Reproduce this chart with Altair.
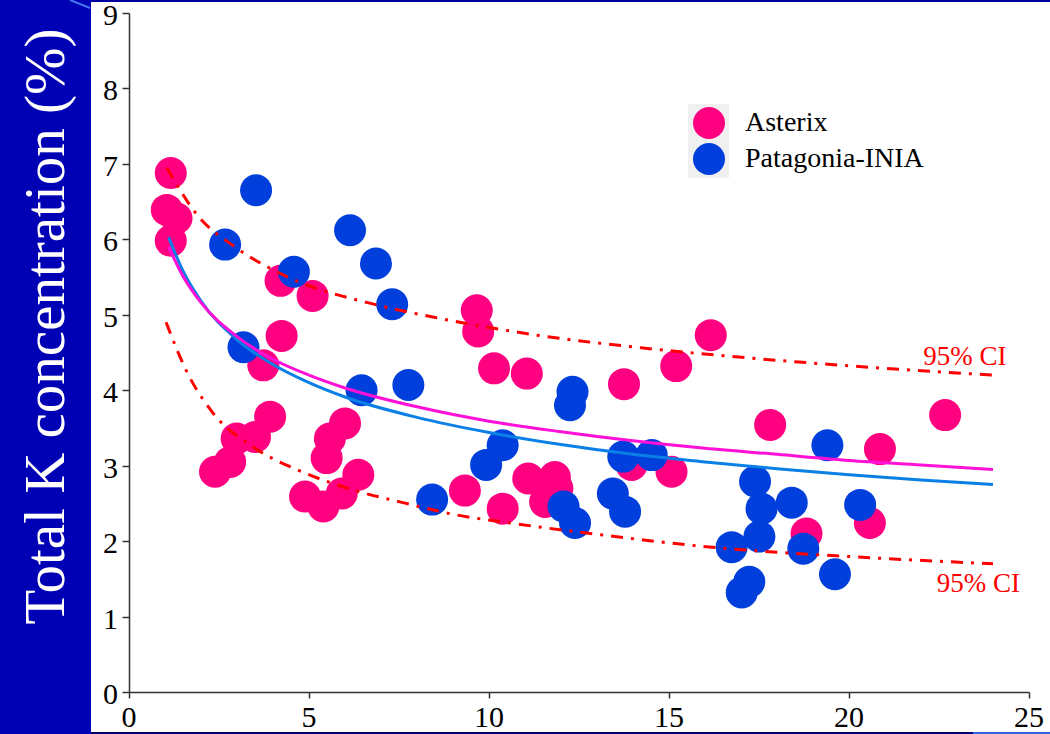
import altair as alt
import pandas as pd

# ---- data ---------------------------------------------------------------
series_names = ["Asterix", "Patagonia-INIA"]
series_colors = ["#FF0080", "#003FDC"]

asterix_x = [1.16, 1.05, 1.32, 1.16, 4.21, 5.10, 4.24, 3.73, 3.92, 2.99,
             3.50, 2.81, 2.39, 6.00, 5.58, 5.49, 6.37, 4.89, 5.40, 5.91,
             9.66, 9.70, 10.14, 11.05, 13.75, 15.20, 9.33, 10.38, 11.09, 11.83,
             11.56, 11.90, 13.96, 15.07, 16.16, 17.81, 20.86, 18.82, 20.58, 22.67]
asterix_y = [6.88, 6.39, 6.28, 5.98, 5.45, 5.25, 4.72, 4.33, 3.65, 3.36,
             3.38, 3.05, 2.92, 3.56, 3.36, 3.10, 2.88, 2.59, 2.46, 2.63,
             5.06, 4.78, 4.29, 4.22, 4.08, 4.32, 2.67, 2.43, 2.83, 2.85,
             2.52, 2.70, 3.01, 2.92, 4.73, 3.54, 3.22, 2.10, 2.24, 3.67]

patagonia_x = [3.53, 2.67, 4.58, 6.14, 6.86, 7.31, 3.18, 6.46, 7.76, 12.32,
               12.25, 10.38, 9.92, 8.42, 12.07, 12.39, 13.44, 13.78, 13.73, 14.52,
               19.40, 17.39, 17.57, 18.41, 17.51, 16.74, 18.73, 20.31, 19.61, 17.23,
               17.02]
patagonia_y = [6.65, 5.93, 5.57, 6.12, 5.68, 5.14, 4.57, 4.00, 4.07, 3.98,
               3.80, 3.27, 3.01, 2.55, 2.46, 2.24, 2.63, 2.39, 3.12, 3.14,
               3.27, 2.79, 2.43, 2.51, 2.06, 1.92, 1.90, 2.48, 1.56, 1.46,
               1.32]

# fitted curves
fit_x = [1.1, 1.5, 2, 3, 4, 5, 6, 8, 10, 12, 14, 16, 18, 20, 22, 24]
fit_asterix = [5.90, 5.51, 5.16, 4.71, 4.41, 4.20, 4.03, 3.78, 3.59, 3.45,
               3.33, 3.23, 3.15, 3.07, 3.01, 2.95]
fit_patagonia = [6.03, 5.58, 5.18, 4.67, 4.34, 4.10, 3.91, 3.64, 3.44, 3.28,
                 3.15, 3.05, 2.96, 2.88, 2.81, 2.75]

# 95% confidence band
ci_upper_x = [1.05, 1.9, 2.94, 4.19, 6.97, 8.44, 11.33, 14.28, 17.17, 20.1, 24]
ci_upper_y = [6.95, 6.32, 5.90, 5.55, 5.12, 4.97, 4.73, 4.56, 4.43, 4.32, 4.20]
ci_lower_x = [1.03, 1.58, 2.33, 3.44, 4.8, 6.14, 7.61, 9.06, 10.44, 13.17, 15.94, 20.2, 24]
ci_lower_y = [4.90, 4.27, 3.70, 3.25, 2.92, 2.69, 2.51, 2.35, 2.25, 2.08, 1.93, 1.79, 1.70]

ci_label_text = ["95% CI", "95% CI"]
ci_label_x = [22.06, 22.44]
ci_label_y = [4.33, 1.33]

x_ticks = [0, 5, 10, 15, 20, 25]
y_ticks = [0, 1, 2, 3, 4, 5, 6, 7, 8, 9]

FONT = "Liberation Serif"

# ---- tables -------------------------------------------------------------
points = pd.concat([
    pd.DataFrame({"x": asterix_x, "y": asterix_y, "variety": series_names[0]}),
    pd.DataFrame({"x": patagonia_x, "y": patagonia_y, "variety": series_names[1]}),
], ignore_index=True)

fit_a = pd.DataFrame({"x": fit_x, "y": fit_asterix})
fit_p = pd.DataFrame({"x": fit_x, "y": fit_patagonia})
ci_up = pd.DataFrame({"x": ci_upper_x, "y": ci_upper_y})
ci_lo = pd.DataFrame({"x": ci_lower_x, "y": ci_lower_y})
ci_labels = pd.DataFrame({"x": ci_label_x, "y": ci_label_y, "t": ci_label_text})
x_tick_df = pd.DataFrame({"x": x_ticks, "t": [str(v) for v in x_ticks]})
y_tick_df = pd.DataFrame({"y": y_ticks, "t": [str(v) for v in y_ticks]})

x_scale = alt.Scale(domain=[0, 25], nice=False, zero=False)
y_scale = alt.Scale(domain=[0, 9], nice=False, zero=False)

# axis lines and ticks come from the axes; tick labels are drawn as text
x_axis = alt.Axis(values=x_ticks, title=None, labels=False, tickSize=6,
                  grid=False, tickColor="#333333", domainColor="#333333",
                  domainWidth=1.5, tickWidth=1.5)
y_axis = alt.Axis(values=y_ticks, title="Total K concentration (%)", labels=False,
                  tickSize=7, grid=False, tickColor="#333333",
                  domainColor="#333333", domainWidth=1.5, tickWidth=1.5,
                  titleFont=FONT, titleFontSize=57, titleFontWeight="normal",
                  titleColor="#FFFFFF", titleAngle=270, titleAlign="center",
                  titleBaseline="alphabetic", titleX=-66, titleY=313, zindex=1)

X = alt.X("x:Q", scale=x_scale, axis=x_axis)
Y = alt.Y("y:Q", scale=y_scale, axis=y_axis)

# ---- decorations (side band, frame lines, legend backdrop) ---------------
one = pd.DataFrame({"k": [0]})
band = alt.Chart(one).mark_rect(color="#0000B4").encode(
    x=alt.value(-129), x2=alt.value(-38), y=alt.value(-13), y2=alt.value(721))

top_line = alt.Chart(one).mark_rule(color="#0000A0", strokeWidth=2).encode(
    x=alt.value(-38), x2=alt.value(921), y=alt.value(-12))
bottom_line = alt.Chart(one).mark_rule(color="#000070", strokeWidth=2).encode(
    x=alt.value(-38), x2=alt.value(844), y=alt.value(720))
bottom_line_light = alt.Chart(one).mark_rule(color="#3366DD", strokeWidth=2).encode(
    x=alt.value(844), x2=alt.value(921), y=alt.value(720))
streak = alt.Chart(one).mark_rule(color="#4477EE", strokeWidth=2).encode(
    x=alt.value(-59), x2=alt.value(-39), y=alt.value(-13), y2=alt.value(-5))

legend_box = alt.Chart(one).mark_rect(color="#F0F0F0").encode(
    x=alt.value(559), x2=alt.value(600), y=alt.value(91), y2=alt.value(165))

# ---- tick labels --------------------------------------------------------
x_labels = alt.Chart(x_tick_df).mark_text(
    font=FONT, fontSize=30, color="#000000", align="center",
    baseline="alphabetic").encode(x=X, y=alt.value(714), text="t:N")
y_labels = alt.Chart(y_tick_df).mark_text(
    font=FONT, fontSize=30, color="#000000", align="right",
    baseline="alphabetic", dy=12).encode(
    x=alt.value(-11), y=Y, text="t:N")

# ---- data marks ---------------------------------------------------------
scatter = alt.Chart(points).mark_circle(size=1024, opacity=1).encode(
    x=X, y=Y,
    color=alt.Color("variety:N",
                    scale=alt.Scale(domain=series_names, range=series_colors),
                    legend=alt.Legend(title=None, orient="none", legendX=564,
                                      legendY=94, symbolType="circle",
                                      symbolSize=1024, symbolStrokeWidth=0,
                                      symbolOpacity=1, labelFont=FONT,
                                      labelFontSize=28, labelColor="#000000",
                                      labelOffset=20, rowPadding=4, padding=0,
                                      labelLimit=400, zindex=1)),
    order=alt.Order("variety:N"),
)

line_a = alt.Chart(fit_a).mark_line(color="#FF10D8", strokeWidth=3,
                                    interpolate="monotone").encode(x=X, y=Y)
line_p = alt.Chart(fit_p).mark_line(color="#0A80E6", strokeWidth=3,
                                    interpolate="monotone").encode(x=X, y=Y)

dash = [12, 8, 3, 8]
ci_upper_line = alt.Chart(ci_up).mark_line(color="#FF0000", strokeWidth=3,
                                           strokeDash=dash,
                                           interpolate="monotone").encode(x=X, y=Y)
ci_lower_line = alt.Chart(ci_lo).mark_line(color="#FF0000", strokeWidth=3,
                                           strokeDash=dash,
                                           interpolate="monotone").encode(x=X, y=Y)

ci_text = alt.Chart(ci_labels).mark_text(font=FONT, fontSize=27, color="#FF0000",
                                         align="left", baseline="alphabetic").encode(
    x=X, y=Y, text="t:N")

chart = alt.layer(
    band, top_line, bottom_line, bottom_line_light, streak, legend_box,
    x_labels, y_labels,
    scatter, line_p, line_a, ci_upper_line, ci_lower_line, ci_text,
).properties(
    width=900, height=679,
    autosize=alt.AutoSizeParams(type="none"),
    padding={"left": 129, "top": 13, "right": 21, "bottom": 42},
    background="#FFFFFF",
).configure_view(stroke=None)

chart.save("out.html", embed_options={"renderer": "svg", "actions": False})
